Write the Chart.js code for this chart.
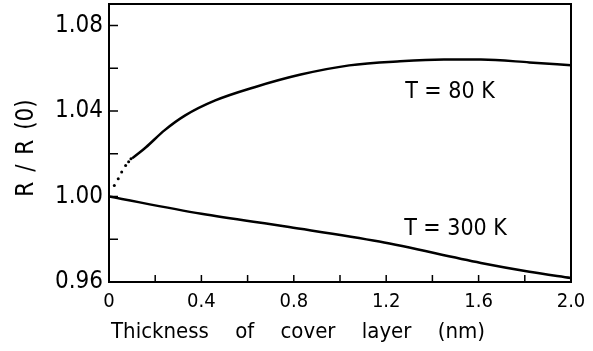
<!DOCTYPE html>
<html>
<head>
<meta charset="utf-8">
<script src="https://cdn.jsdelivr.net/npm/chart.js@4"></script>
<style>
html, body { margin: 0; padding: 0; background: #fff; }
#wrap { width: 593px; height: 351px; }
</style>
</head>
<body>
<div id="wrap"><canvas id="chart" width="593" height="351"></canvas></div>
<script>
// Data
const xTicks = [0, 0.4, 0.8, 1.2, 1.6, 2.0];
const yTicks = [0.96, 1.00, 1.04, 1.08];
const xMinor = [0.2, 0.6, 1.0, 1.4, 1.8];
const yMinor = [0.98, 1.02, 1.06];

// T = 80 K, dotted start then solid
const thickDots80 = [0.023, 0.04, 0.055, 0.072, 0.085, 0.095];
const rDots80 = [1.0051, 1.0083, 1.0114, 1.0145, 1.0162, 1.0176];
const thick80 = [0.10, 0.16, 0.24, 0.33, 0.46, 0.63, 0.83, 1.04, 1.26, 1.45, 1.61, 1.82, 2.0];
const r80 = [1.0178, 1.0230, 1.0309, 1.0379, 1.0449, 1.0511, 1.0570, 1.0613, 1.0632, 1.0640, 1.0640, 1.0627, 1.0613];

// T = 300 K
const thick300 = [0, 0.4, 0.78, 1.17, 1.61, 1.82, 2.0];
const r300 = [1.000, 0.9919, 0.9857, 0.9789, 0.9689, 0.9648, 0.9619];

// curve labels
const labels = [
  { text: 'T = 80 K', x: 1.476, y: 1.049 },
  { text: 'T = 300 K', x: 1.50, y: 0.985 }
];

const FONT = '"DejaVu Sans Condensed", "DejaVu Sans", sans-serif';

function pts(xs, ys) {
  return xs.map((x, i) => ({ x: x, y: ys[i] }));
}

// frame, inward ticks, axis titles and curve labels
const framePlugin = {
  id: 'frame',
  afterDraw(chart) {
    const ctx = chart.ctx;
    const a = chart.chartArea;
    const xs = chart.scales.x;
    const ys = chart.scales.y;
    ctx.save();
    ctx.strokeStyle = '#000';
    ctx.lineWidth = 2;
    ctx.strokeRect(a.left, a.top, a.right - a.left, a.bottom - a.top);

    ctx.lineWidth = 1.5;
    ctx.beginPath();
    xTicks.concat(xMinor).forEach(v => {
      const px = xs.getPixelForValue(v);
      ctx.moveTo(px, a.bottom);
      ctx.lineTo(px, a.bottom - 7);
    });
    yTicks.concat(yMinor).forEach(v => {
      const py = ys.getPixelForValue(v);
      ctx.moveTo(a.left, py);
      ctx.lineTo(a.left + 9, py);
    });
    ctx.stroke();

    ctx.fillStyle = '#000';
    ctx.font = '23px ' + FONT;
    ctx.textAlign = 'center';
    ctx.textBaseline = 'middle';
    labels.forEach(l => {
      ctx.fillText(l.text, xs.getPixelForValue(l.x), ys.getPixelForValue(l.y));
    });

    // x axis title
    ctx.font = '22px ' + FONT;
    ctx.wordSpacing = '20px';
    ctx.fillText('Thickness of cover layer (nm)', 298, 332);

    // y axis title
    ctx.wordSpacing = '3px';
    ctx.translate(27, 148);
    ctx.rotate(-Math.PI / 2);
    ctx.font = '24px ' + FONT;
    ctx.fillText('R / R (0)', 0, 0);
    ctx.restore();
  }
};

new Chart(document.getElementById('chart'), {
  type: 'scatter',
  data: {
    datasets: [
      {
        label: 'T = 80 K (dots)',
        data: pts(thickDots80, rDots80),
        showLine: false,
        pointRadius: 1.5,
        pointBackgroundColor: '#000',
        pointBorderWidth: 0
      },
      {
        label: 'T = 80 K',
        data: pts(thick80, r80),
        showLine: true,
        borderColor: '#000',
        borderWidth: 2.5,
        pointRadius: 0,
        cubicInterpolationMode: 'monotone'
      },
      {
        label: 'T = 300 K',
        data: pts(thick300, r300),
        showLine: true,
        borderColor: '#000',
        borderWidth: 2.5,
        pointRadius: 0,
        cubicInterpolationMode: 'monotone'
      }
    ]
  },
  options: {
    responsive: false,
    animation: false,
    layout: { padding: { top: 4, right: 22, left: 0, bottom: 0 } },
    plugins: {
      legend: { display: false },
      tooltip: { enabled: false }
    },
    scales: {
      x: {
        type: 'linear',
        min: 0,
        max: 2.0,
        grid: { display: false, drawTicks: false },
        border: { display: false },
        afterBuildTicks: s => { s.ticks = xTicks.map(v => ({ value: v })); },
        afterFit: s => { s.height = 69; s.paddingLeft = 0; s.paddingRight = 0; },
        ticks: {
          color: '#000',
          padding: 8,
          maxRotation: 0,
          font: { family: FONT, size: 20 },
          callback: v => (v === 0 ? '0' : v.toFixed(1))
        }
      },
      y: {
        min: 0.96,
        max: 1.09,
        grid: { display: false, drawTicks: false },
        border: { display: false },
        afterBuildTicks: s => { s.ticks = yTicks.map(v => ({ value: v })); },
        afterFit: s => { s.width = 109; s.paddingTop = 0; s.paddingBottom = 0; },
        ticks: {
          color: '#000',
          padding: 6,
          font: { family: FONT, size: 24 },
          callback: v => v.toFixed(2)
        }
      }
    }
  },
  plugins: [framePlugin]
});
</script>
</body>
</html>
